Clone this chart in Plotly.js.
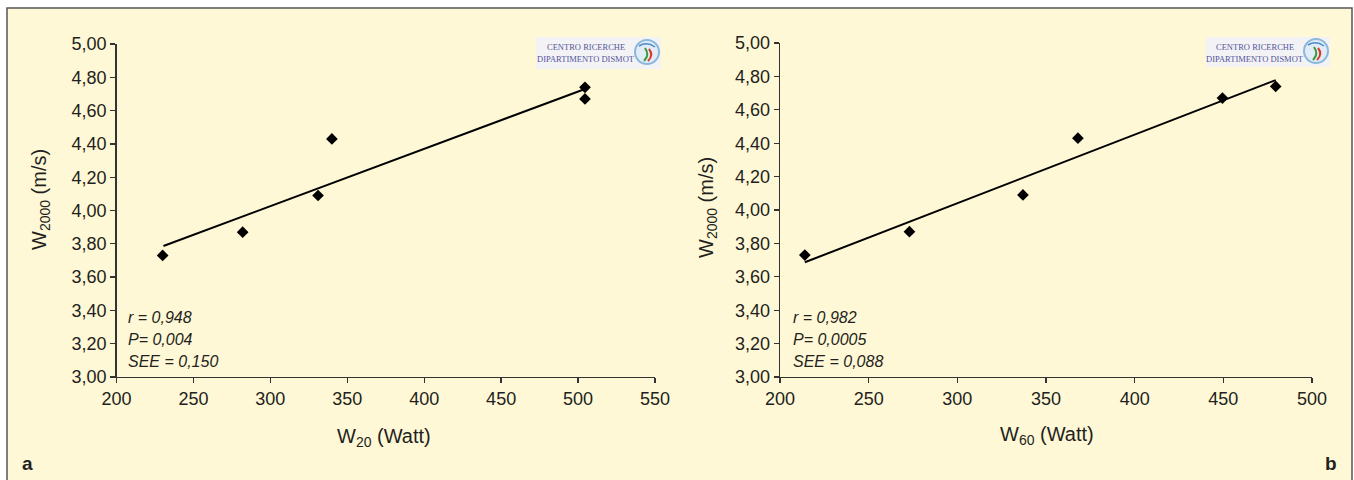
<!DOCTYPE html>
<html>
<head>
<meta charset="utf-8">
<script src="https://cdn.plot.ly/plotly-3.0.1.min.js"></script>
<style>html,body{margin:0;padding:0;background:#fff;}#chart{width:1354px;height:480px;}</style>
</head>
<body>
<div id="chart"></div>
<script>
// ---- data ----
const w20      = [230, 282, 331, 340, 504.5, 504.5];
const speedA   = [3.73, 3.87, 4.09, 4.43, 4.74, 4.67];
const fitAx    = [230.5, 504.5];
const fitAy    = [3.787, 4.73];

const w60      = [214, 273, 337, 368, 449.5, 479.5];
const speedB   = [3.73, 3.87, 4.09, 4.43, 4.67, 4.74];
const fitBx    = [214, 479.5];
const fitBy    = [3.687, 4.778];

const xTicksA  = [200, 250, 300, 350, 400, 450, 500, 550];
const xTicksB  = [200, 250, 300, 350, 400, 450, 500];
const yTicks   = [3.0, 3.2, 3.4, 3.6, 3.8, 4.0, 4.2, 4.4, 4.6, 4.8, 5.0];

const statsA   = ['r = 0,948', 'P= 0,004', 'SEE = 0,150'];
const statsB   = ['r = 0,982', 'P= 0,0005', 'SEE = 0,088'];
const panelLabels = ['a', 'b'];
const xTitles  = ['W<sub>20</sub> (Watt)', 'W<sub>60</sub> (Watt)'];
const yTitle   = 'W<sub>2000</sub> (m/s)';
const logoLines = ['CENTRO RICERCHE', 'DIPARTIMENTO DISMOT'];

// ---- helpers ----
const W = 1354, H = 480;
const px = x => x / W;
const py = y => 1 - y / H;
const FONT = 'Liberation Sans, Arial, Helvetica, sans-serif';
const TXT = '#231f20';
const AX = '#333333';

const marker = {symbol: 'diamond', size: 9, color: '#000'};
const traces = [
  {x: w20, y: speedA, type: 'scatter', mode: 'markers', marker: marker, xaxis: 'x', yaxis: 'y', hoverinfo: 'x+y'},
  {x: fitAx, y: fitAy, type: 'scatter', mode: 'lines', line: {color: '#000', width: 2}, xaxis: 'x', yaxis: 'y', hoverinfo: 'skip'},
  {x: w60, y: speedB, type: 'scatter', mode: 'markers', marker: marker, xaxis: 'x2', yaxis: 'y2', hoverinfo: 'x+y'},
  {x: fitBx, y: fitBy, type: 'scatter', mode: 'lines', line: {color: '#000', width: 2}, xaxis: 'x2', yaxis: 'y2', hoverinfo: 'skip'}
];

function xAxis(domain, ticks) {
  return {
    domain: domain, range: [ticks[0], ticks[ticks.length - 1]], tickvals: ticks, tickformat: 'd',
    showline: true, linecolor: AX, linewidth: 1.3, ticks: 'outside', ticklen: 5, tickcolor: AX, tickwidth: 1.3,
    showgrid: false, zeroline: false, tickfont: {family: FONT, size: 18, color: TXT}, fixedrange: true
  };
}
function yAxis(domain, anchor) {
  return {
    domain: domain, range: [3, 5], tickvals: yTicks, tickformat: '.2f', anchor: anchor,
    showline: true, linecolor: AX, linewidth: 1.3, ticks: 'outside', ticklen: 5, tickcolor: AX, tickwidth: 1.3,
    showgrid: false, zeroline: false, tickfont: {family: FONT, size: 18, color: TXT}, fixedrange: true
  };
}

const annotations = [];
function addText(x, y, text, opts) {
  annotations.push(Object.assign({
    xref: 'paper', yref: 'paper', x: px(x), y: py(y), text: text, showarrow: false,
    xanchor: 'center', yanchor: 'middle', font: {family: FONT, size: 20, color: TXT}
  }, opts || {}));
}
// axis titles
addText(40, 200, yTitle, {textangle: -90});
addText(707, 208, yTitle, {textangle: -90});
addText(384, 437, xTitles[0]);
addText(1047, 435, xTitles[1]);
// statistics
const statY = [317, 339, 361];
statsA.forEach((t, i) => addText(126, statY[i], '<i>' + t + '</i>', {xanchor: 'left', font: {family: FONT, size: 16, color: TXT}}));
statsB.forEach((t, i) => addText(791, statY[i], '<i>' + t + '</i>', {xanchor: 'left', font: {family: FONT, size: 16, color: TXT}}));
// panel letters
addText(27, 463, '<b>' + panelLabels[0] + '</b>', {font: {family: FONT, size: 19, color: TXT}});
addText(1331, 463, '<b>' + panelLabels[1] + '</b>', {font: {family: FONT, size: 19, color: TXT}});

// ---- background, frame and logos ----
const shapes = [
  {type: 'rect', xref: 'paper', yref: 'paper', x0: px(7), x1: px(1352), y0: py(8), y1: py(490),
   fillcolor: '#fff8d6', line: {color: '#555555', width: 1.5}, layer: 'below'}
];
function addLogo(x0, y0, x1, y1, cx, cy) {
  shapes.push({type: 'rect', xref: 'paper', yref: 'paper', x0: px(x0), x1: px(x1), y0: py(y0), y1: py(y1),
    fillcolor: '#f3f3f6', line: {width: 0}, layer: 'below'});
  const r = 12;
  shapes.push({type: 'circle', xref: 'paper', yref: 'paper', x0: px(cx - r), x1: px(cx + r), y0: py(cy + r), y1: py(cy - r),
    fillcolor: 'rgba(225,236,246,1)', line: {color: '#8cb8dc', width: 2}, layer: 'below'});
  shapes.push({type: 'path', xref: 'paper', yref: 'paper', layer: 'below',
    path: 'M ' + px(cx - 2) + ' ' + py(cy - 4) + ' Q ' + px(cx + 3) + ' ' + py(cy + 3) + ' ' + px(cx - 3) + ' ' + py(cy + 9),
    line: {color: '#3a9a3a', width: 2}});
  shapes.push({type: 'path', xref: 'paper', yref: 'paper', layer: 'below',
    path: 'M ' + px(cx + 2) + ' ' + py(cy - 3) + ' Q ' + px(cx + 7) + ' ' + py(cy + 3) + ' ' + px(cx + 1) + ' ' + py(cy + 9),
    line: {color: '#d83a2a', width: 2}});
  shapes.push({type: 'path', xref: 'paper', yref: 'paper', layer: 'below',
    path: 'M ' + px(cx - 8) + ' ' + py(cy - 6) + ' Q ' + px(cx) + ' ' + py(cy - 11) + ' ' + px(cx + 8) + ' ' + py(cy - 5),
    line: {color: '#4a8cc8', width: 1.5}});
  const tx = (x0 + cx - r) / 2;
  addText(tx, y0 + 10, logoLines[0], {font: {family: 'Liberation Serif, DejaVu Serif, serif', size: 8.5, color: '#55559a'}});
  addText(tx, y0 + 22, logoLines[1], {font: {family: 'Liberation Serif, DejaVu Serif, serif', size: 8.5, color: '#55559a'}});
}
addLogo(536, 37, 661, 69, 647, 52);
addLogo(1206, 37, 1330, 67, 1316, 51);

const layout = {
  width: W, height: H, margin: {l: 0, r: 0, t: 0, b: 0},
  paper_bgcolor: '#ffffff', plot_bgcolor: 'rgba(0,0,0,0)',
  showlegend: false, separators: ',.',
  font: {family: FONT, color: TXT},
  xaxis: Object.assign(xAxis([px(116.5), px(655)], xTicksA), {anchor: 'y'}),
  yaxis: yAxis([py(377), py(44)], 'x'),
  xaxis2: Object.assign(xAxis([px(780), px(1312)], xTicksB), {anchor: 'y2'}),
  yaxis2: yAxis([py(377), py(43)], 'x2'),
  shapes: shapes,
  annotations: annotations
};

Plotly.newPlot('chart', traces, layout, {displayModeBar: false, staticPlot: true});
</script>
</body>
</html>
